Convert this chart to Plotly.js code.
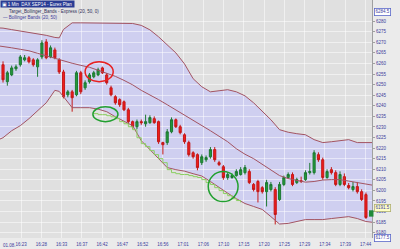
<!DOCTYPE html>
<html><head><meta charset="utf-8">
<script src="https://cdn.plot.ly/plotly-3.0.1.min.js"></script>
<style>html,body{margin:0;padding:0;background:#ebebeb}#chart{width:400px;height:249px}</style>
</head><body><div id="chart"></div>
<script>
// one-minute candles, 01.08. (DAX SEP14)
const opens  = [6259.4,6251.4,6254.6,6257.5,6259.4,6261.7,6262.7,6261.7,6258.4,6263.1,6270.2,6263.1,6266.4,6261.7,6256.0,6245.2,6246.6,6245.2,6255.6,6248.5,6251.4,6253.7,6254.6,6257.9,6254.6,6248.5,6244.3,6242.9,6241.9,6238.1,6232.5,6230.1,6232.5,6231.5,6232.0,6233.9,6232.5,6222.6,6222.6,6227.7,6233.4,6230.1,6226.3,6222.6,6217.8,6216.9,6213.1,6214.5,6215.9,6219.3,6213.1,6211.2,6206.1,6206.1,6207.0,6207.5,6208.4,6208.9,6202.8,6204.2,6201.3,6199.4,6200.4,6200.4,6195.7,6202.8,6206.1,6207.5,6203.7,6204.6,6205.1,6208.4,6208.4,6216.9,6214.5,6206.1,6209.8,6208.4,6202.8,6206.5,6202.3,6200.4,6201.8,6199.4,6198.0];
const highs  = [6261.0,6256.5,6259.0,6259.5,6264.0,6264.0,6263.5,6262.5,6262.5,6271.0,6271.5,6268.5,6267.5,6262.5,6257.0,6247.5,6247.5,6256.5,6256.5,6252.0,6255.5,6256.5,6258.0,6258.5,6255.5,6249.5,6245.0,6243.5,6242.5,6239.0,6233.0,6233.5,6233.5,6235.8,6235.5,6235.0,6233.0,6223.0,6229.0,6234.5,6234.0,6231.0,6227.0,6223.5,6218.5,6217.5,6217.0,6216.5,6220.5,6220.5,6214.0,6212.0,6208.5,6208.0,6210.0,6211.0,6212.0,6210.0,6203.5,6205.0,6202.0,6205.0,6204.0,6201.5,6204.0,6207.0,6208.5,6208.5,6206.0,6206.5,6209.5,6213.0,6219.0,6218.0,6215.5,6210.0,6211.0,6209.5,6209.0,6208.0,6203.5,6204.0,6204.0,6200.5,6199.0];
const lows   = [6251.0,6249.5,6254.0,6256.5,6258.5,6261.0,6260.0,6258.5,6253.7,6262.0,6262.0,6262.5,6262.0,6255.0,6243.5,6244.0,6237.2,6244.5,6245.5,6247.5,6250.5,6253.0,6254.0,6255.0,6250.0,6244.5,6240.5,6239.5,6237.5,6231.5,6229.0,6229.0,6231.0,6230.1,6231.5,6231.5,6222.0,6217.0,6221.5,6227.0,6229.5,6226.5,6222.0,6216.0,6215.0,6209.5,6212.0,6213.5,6215.0,6213.5,6211.5,6205.0,6205.0,6205.5,6206.5,6207.0,6207.5,6203.0,6199.5,6194.3,6198.5,6192.4,6199.5,6183.9,6195.0,6202.0,6205.5,6202.0,6203.0,6203.5,6204.5,6207.5,6207.5,6213.5,6205.0,6205.5,6207.5,6202.0,6202.0,6202.0,6200.5,6199.5,6198.5,6195.0,6186.5];
const closes = [6252.3,6255.6,6257.9,6258.4,6263.1,6262.7,6260.8,6259.4,6261.7,6269.7,6262.7,6267.4,6262.7,6256.0,6244.3,6246.6,6243.8,6255.6,6246.6,6250.9,6254.6,6255.6,6257.0,6255.6,6250.9,6245.2,6241.4,6240.5,6238.1,6232.5,6230.1,6232.5,6232.0,6232.5,6234.4,6232.0,6223.0,6221.6,6227.7,6233.4,6230.1,6227.3,6223.0,6216.9,6215.9,6210.8,6215.9,6215.5,6219.3,6214.5,6212.2,6206.1,6207.5,6207.0,6208.9,6209.8,6210.8,6203.7,6200.4,6199.4,6199.4,6203.7,6202.8,6188.6,6202.8,6206.1,6207.5,6202.8,6205.1,6204.2,6208.4,6208.9,6217.8,6214.5,6206.1,6208.9,6208.4,6202.8,6207.5,6202.8,6201.3,6201.8,6199.4,6195.7,6187.2];

// Bollinger Bands (20, 50), read at these candle numbers
const bandIdx = [-1,0,2,4,6,8,10,12,13,14,16,18,20,22,24,26,28,30,32,34,36,38,40,42,44,46,48,50,52,54,56,58,60,62,64,66,68,70,72,74,76,78,80,82,84,86];
const upperBand  = [6276.8,6276.7,6276.0,6275.4,6274.7,6274.2,6273.3,6272.3,6272.1,6276.1,6279.2,6279.2,6279.2,6279.2,6279.2,6279.2,6279.2,6278.9,6278.0,6275.9,6272.6,6269.0,6265.0,6259.8,6252.8,6249.0,6246.6,6247.1,6247.6,6246.6,6244.7,6241.4,6237.6,6233.4,6228.7,6227.5,6226.8,6226.3,6224.0,6222.6,6223.0,6223.5,6224.0,6222.6,6222.6,6222.6];
const middleBand = [6268.3,6268.1,6267.4,6266.7,6266.0,6264.8,6263.6,6262.4,6261.7,6261.2,6260.1,6259.1,6258.2,6256.8,6255.3,6253.9,6252.0,6249.9,6247.3,6245.2,6242.9,6240.5,6238.1,6235.3,6232.9,6230.6,6228.2,6225.6,6223.0,6219.7,6217.1,6215.0,6212.2,6209.4,6207.0,6205.6,6204.6,6203.9,6204.2,6204.9,6205.1,6205.1,6204.4,6203.7,6202.8,6202.3];
const lowerBand  = [6224.0,6224.9,6228.2,6230.6,6233.9,6237.6,6241.4,6247.3,6246.8,6244.3,6239.1,6239.1,6239.1,6238.4,6237.2,6234.8,6232.5,6230.6,6223.5,6219.3,6215.5,6210.8,6209.8,6209.1,6207.9,6206.8,6204.2,6201.3,6198.7,6196.1,6193.8,6192.4,6191.0,6187.6,6184.1,6184.4,6185.3,6186.2,6186.2,6186.2,6186.7,6187.2,6187.6,6186.7,6185.3,6184.8];

// Target_Bollinger_Bands - Express (20, 50, 0)
const targetIdx = [21,22,23,24,25,26,27,28,29,30,31,32,33,34,35,36,37,38,39,40,41,42,43,44,45,46,47,48,49,50,51,52,53,54,55];
const targetVals = [6236.3,6235.8,6235.8,6235.3,6234.8,6233.9,6232.5,6231.5,6230.1,6228.7,6224.9,6222.1,6220.7,6218.8,6216.9,6215.0,6213.1,6209.8,6208.4,6207.9,6207.5,6207.5,6207.0,6206.5,6206.1,6205.1,6203.7,6202.8,6201.3,6199.9,6198.5,6197.5,6196.1,6195.2,6194.3];

const timeLabels = ['16:23','16:28','16:33','16:37','16:42','16:47','16:52','16:56','17:01','17:06','17:10','17:15','17:20','17:25','17:29','17:34','17:39','17:44'];
const priceTicks = [6180,6185,6190,6195,6200,6205,6210,6215,6220,6225,6230,6235,6240,6245,6250,6255,6260,6265,6270,6275,6280];
const topLabel = 6284.5, bottomLabel = 6177.5, lastLabel = 6191.5;

const candleX = opens.map((_, i) => i);
const tickPos = timeLabels.map((_, k) => 4.17 + k * 4.69);

// band area as a path below the traces (candlesticks sit in a lower layer than scatter fills)
const bandPath = 'M ' + bandIdx.map((x, i) => x + ',' + upperBand[i]).join(' L ') + ' L ' +
  bandIdx.slice().reverse().map((x, i) => x + ',' + lowerBand[lowerBand.length - 1 - i]).join(' L ') + ' Z';

const bandLine = {color: '#a35462', width: 1};
const traces = [
  {x: bandIdx, y: lowerBand, type: 'scatter', mode: 'lines', line: bandLine, hoverinfo: 'skip'},
  {x: bandIdx, y: upperBand, type: 'scatter', mode: 'lines', line: bandLine, hoverinfo: 'skip'},
  {x: bandIdx, y: middleBand, type: 'scatter', mode: 'lines', line: bandLine, hoverinfo: 'skip'},
  {x: targetIdx, y: targetVals, type: 'scatter', mode: 'lines', line: {color: '#8ccf62', width: 1, shape: 'hv'}},
  {x: candleX, open: opens, high: highs, low: lows, close: closes, type: 'candlestick',
   increasing: {line: {color: '#1d7a32', width: 1}, fillcolor: '#22993a'},
   decreasing: {line: {color: '#c41818', width: 1}, fillcolor: '#f01c1c'},
   whiskerwidth: 0}
];

const tf = {family: 'Liberation Sans, Arial, sans-serif', size: 4.5, color: '#3c3c9c'};
const boxAnn = (v, bg) => ({xref: 'paper', yref: 'y', x: 1, y: v, xanchor: 'left', yanchor: 'middle', xshift: 2,
  text: v.toFixed(1), showarrow: false, font: tf, bgcolor: bg, bordercolor: '#5a68c8', borderwidth: 0.8, borderpad: 0.6});

const layout = {
  width: 400, height: 249,
  margin: {l: 0, r: 28, t: 0, b: 11, pad: 0},
  paper_bgcolor: '#ebebeb', plot_bgcolor: '#e0e0e0',
  showlegend: false,
  xaxis: {range: [-0.7, 85.4], tickmode: 'array', tickvals: tickPos, ticktext: timeLabels,
    showgrid: true, gridcolor: 'rgba(255,255,255,0.5)', gridwidth: 1, zeroline: false, showline: false,
    ticks: '', tickfont: tf, ticklabelstandoff: 2, rangeslider: {visible: false}, fixedrange: true},
  yaxis: {side: 'right', range: [6177.5, 6290], tickmode: 'array', tickvals: priceTicks,
    ticktext: priceTicks.map(String), showgrid: true, gridcolor: 'rgba(255,255,255,0.5)', zeroline: false,
    showline: true, linecolor: '#a0a0a0', linewidth: 1, ticks: 'outside', ticklen: 2, tickcolor: '#a0a0a0',
    tickfont: tf},
  shapes: [
    {type: 'path', xref: 'x', yref: 'y', path: bandPath, layer: 'below', fillcolor: '#cfcff0', line: {width: 0}},
    {type: 'circle', xref: 'x', yref: 'y', x0: 19.0, x1: 25.5, y0: 6251.4, y1: 6260.8, line: {color: '#e82020', width: 1.5}},
    {type: 'circle', xref: 'x', yref: 'y', x0: 20.8, x1: 26.6, y0: 6232.5, y1: 6239.5, line: {color: '#22a030', width: 1.5}},
    {type: 'circle', xref: 'x', yref: 'y', x0: 47.5, x1: 54.4, y0: 6194.7, y1: 6208.9, line: {color: '#22a030', width: 1.5}},
    {type: 'rect', xref: 'paper', yref: 'y', x0: 0.992, x1: 1.004, y0: 6187.6, y1: 6190.6, fillcolor: '#1f8a38', line: {width: 0}}
  ],
  annotations: [
    boxAnn(topLabel, '#ffffff'),
    boxAnn(bottomLabel, '#ffffff'),
    Object.assign(boxAnn(lastLabel, '#ffffc8'), {bordercolor: '#b0b070'}),
    {xref: 'paper', yref: 'paper', x: 0, y: 1, xanchor: 'left', yanchor: 'top', showarrow: false,
     text: '\u25A3 1 Min  DAX SEP14 - Eurex Plan ', font: {family: 'Liberation Sans, Arial', size: 4.5, color: '#ffffff'},
     bgcolor: '#2a3c94', borderpad: 0.6},
    {xref: 'paper', yref: 'paper', x: 0.018, y: 0.972, xanchor: 'left', yanchor: 'top', showarrow: false,
     text: 'Target_Bollinger_Bands - Express (20, 50, 0)', font: {family: 'Liberation Sans, Arial', size: 4.5, color: '#30305a'}},
    {xref: 'paper', yref: 'paper', x: 0.004, y: 0.946, xanchor: 'left', yanchor: 'top', showarrow: false,
     text: '\u2014 Bollinger Bands (20, 50)', font: {family: 'Liberation Sans, Arial', size: 4.5, color: '#3c3c9c'}},
    {xref: 'paper', yref: 'paper', x: 0.004, y: 0, xanchor: 'left', yanchor: 'top', yshift: -3, showarrow: false,
     text: '01.08.', font: tf}
  ]
};

Plotly.newPlot('chart', traces, layout, {displayModeBar: false, staticPlot: true});
</script></body></html>
